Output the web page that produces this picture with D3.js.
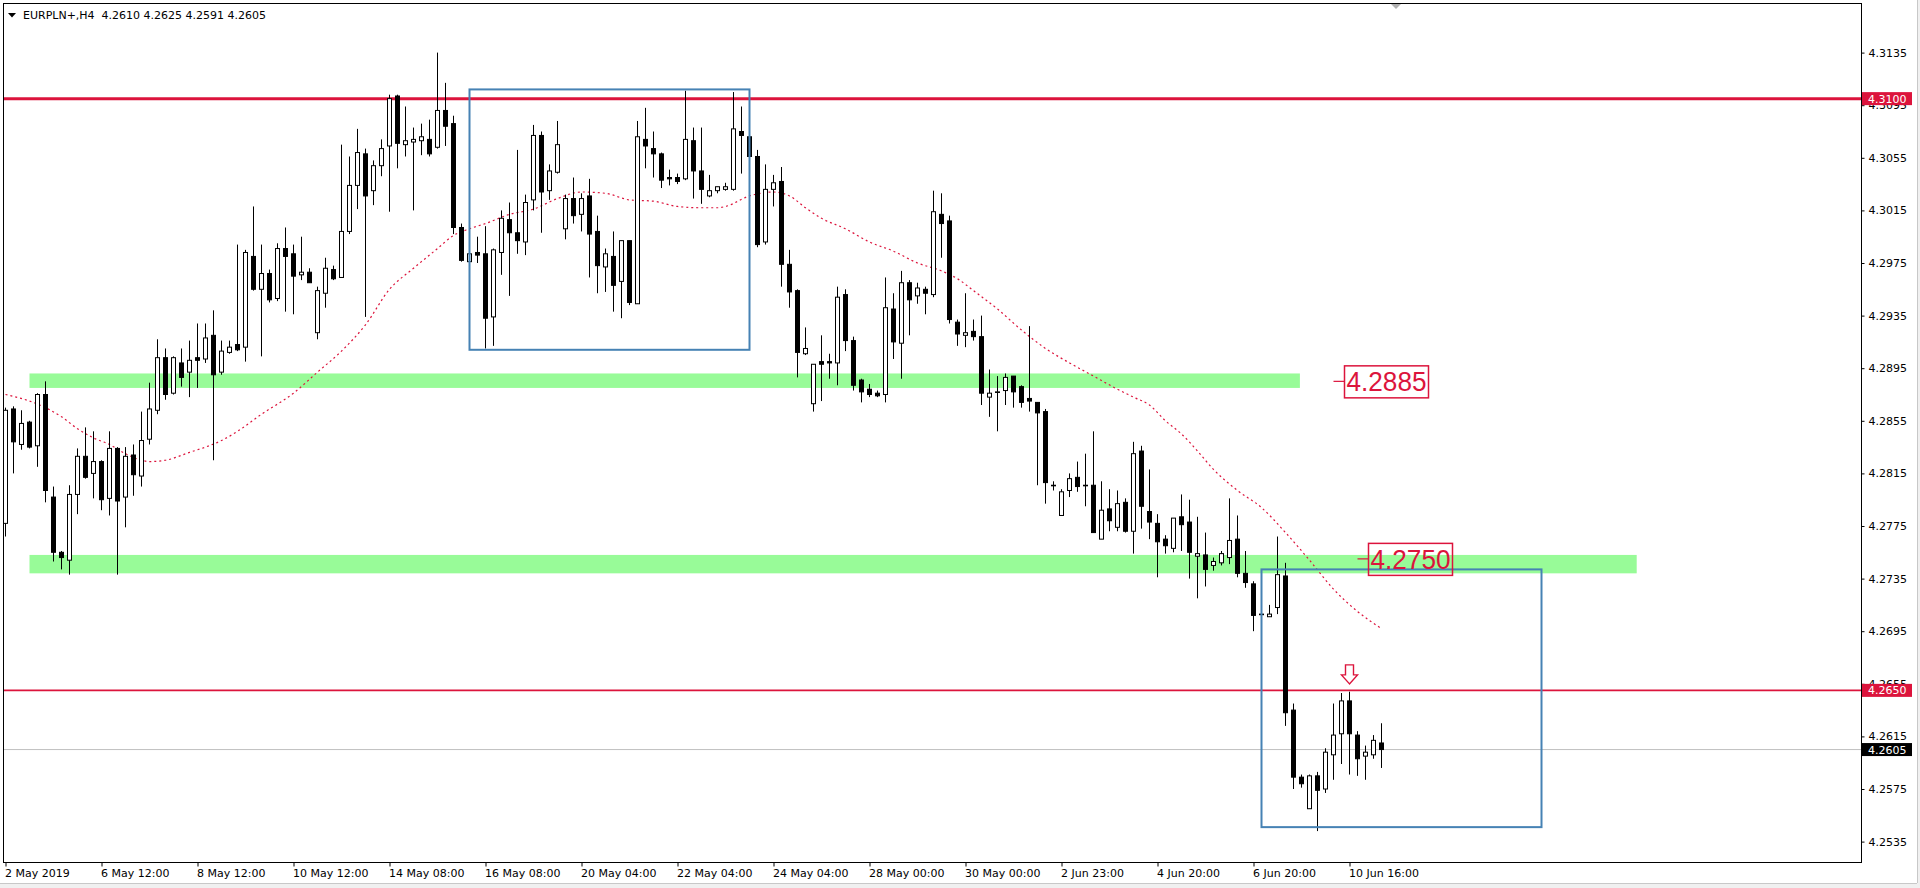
<!DOCTYPE html>
<html><head><meta charset="utf-8">
<script src="https://cdn.jsdelivr.net/npm/d3@7"></script>
<style>html,body{margin:0;padding:0;background:#fff;overflow:hidden}</style>
</head><body>
<svg id="c" width="1920" height="888" xmlns="http://www.w3.org/2000/svg"></svg>
<script>
// ---------- DATA (EURPLN+, H4) ----------
const symbolTitle = "EURPLN+,H4";
const opens = [4.2777,4.2864,4.2837,4.2854,4.2836,4.2875,4.2797,4.2755,4.2749,4.2799,
4.2828,4.2815,4.2824,4.2796,4.2834,4.2797,4.2829,4.2813,4.2841,4.2863,
4.2903,4.2876,4.2899,4.2892,4.2903,4.2902,4.2920,4.2892,4.2907,4.2913,
4.2911,4.2980,4.2955,4.2967,4.2948,4.2986,4.2982,4.2966,4.2968,4.2922,
4.2952,4.2970,4.2964,4.2999,4.3034,4.3058,4.3030,4.3049,4.3064,4.3102,
4.3065,4.3067,4.3068,4.3069,4.3063,4.3091,4.3081,4.3002,4.2976,4.2983,
4.2982,4.2934,4.2983,4.3008,4.2998,4.2991,4.3023,4.3072,4.3030,4.3044,
4.3001,4.3024,4.3012,4.3026,4.2999,4.2972,4.2980,4.2961,4.2992,4.2944,
4.3069,4.3062,4.3058,4.3040,4.3040,4.3039,4.3068,4.3045,4.3026,4.3030,
4.3031,4.3031,4.3075,4.3071,4.3056,4.2991,4.3031,4.3037,4.2974,4.2954,
4.2906,4.2868,4.2900,4.2900,4.2899,4.2951,4.2916,4.2886,4.2879,4.2876,
4.2875,4.2940,4.2914,4.2960,4.2950,4.2955,4.2951,4.3012,4.3007,4.2930,
4.2920,4.2923,4.2919,4.2873,4.2877,4.2878,4.2889,4.2881,4.2872,4.2869,
4.2862,4.2806,4.2783,4.2802,4.2812,4.2806,4.2806,4.2765,4.2788,4.2774,
4.2793,4.2771,4.2832,4.2786,4.2777,4.2765,4.2758,4.2782,4.2778,4.2752,
4.2753,4.2745,4.2747,4.2751,4.2765,4.2739,4.2731,4.2708,4.2706,4.2713,
4.2737,4.2635,4.2584,4.2560,4.2585,4.2575,4.2601,4.2617,4.2642,4.2616,
4.2600,4.2601,4.2610];
const highs = [4.2865,4.2866,4.2863,4.2855,4.2876,4.2885,4.2805,4.2756,4.2806,4.2834,
4.2850,4.2847,4.2825,4.2847,4.2835,4.2835,4.2837,4.2862,4.2884,4.2917,
4.2910,4.2904,4.2910,4.2916,4.2929,4.2929,4.2939,4.2916,4.2916,4.2989,
4.2985,4.3018,4.2989,4.2970,4.2990,4.3002,4.2989,4.2995,4.2971,4.2957,
4.2979,4.2973,4.3065,4.3056,4.3077,4.3062,4.3053,4.3069,4.3103,4.3103,
4.3094,4.3078,4.3081,4.3084,4.3135,4.3112,4.3087,4.3005,4.2983,4.2995,
4.3003,4.2986,4.3015,4.3021,4.3061,4.3027,4.3080,4.3075,4.3050,4.3083,
4.3027,4.3040,4.3028,4.3039,4.3011,4.2986,4.2999,4.2992,4.2992,4.3083,
4.3093,4.3075,4.3059,4.3046,4.3043,4.3106,4.3078,4.3078,4.3042,4.3033,
4.3036,4.3105,4.3094,4.3072,4.3061,4.3050,4.3042,4.3048,4.2985,4.2955,
4.2926,4.2898,4.2920,4.2906,4.2957,4.2955,4.2919,4.2887,4.2883,4.2878,
4.2964,4.2952,4.2969,4.2962,4.2960,4.2957,4.3030,4.3028,4.3011,4.2932,
4.2952,4.2932,4.2935,4.2894,4.2889,4.2891,4.2889,4.2882,4.2927,4.2869,
4.2864,4.2809,4.2803,4.2815,4.2824,4.2830,4.2847,4.2809,4.2803,4.2802,
4.2796,4.2839,4.2836,4.2818,4.2784,4.2768,4.2781,4.2799,4.2795,4.2782,
4.2770,4.2751,4.2756,4.2796,4.2783,4.2756,4.2733,4.2709,4.2715,4.2767,
4.2747,4.2640,4.2586,4.2586,4.2588,4.2606,4.2640,4.2648,4.2649,4.2619,
4.2608,4.2616,4.2625];
const lows = [4.2767,4.2815,4.2833,4.2834,4.2820,4.2793,4.2748,4.2742,4.2738,4.2784,
4.2811,4.2796,4.2787,4.2783,4.2738,4.2774,4.2798,4.2805,4.2837,4.2860,
4.2871,4.2875,4.2881,4.2873,4.2880,4.2899,4.2825,4.2890,4.2906,4.2908,
4.2900,4.2954,4.2904,4.2945,4.2946,4.2938,4.2936,4.2962,4.2960,4.2917,
4.2941,4.2962,4.2964,4.2997,4.3016,4.2934,4.3019,4.3041,4.3014,4.3047,
4.3056,4.3015,4.3057,4.3056,4.3062,4.3064,4.2997,4.2976,4.2976,4.2975,
4.2910,4.2912,4.2966,4.2950,4.2982,4.2981,4.3015,4.2998,4.3023,4.3043,
4.2993,4.3005,4.2999,4.2964,4.2952,4.2953,4.2938,4.2933,4.2943,4.2944,
4.3047,4.3040,4.3032,4.3034,4.3035,4.3038,4.3024,4.3020,4.3025,4.3028,
4.3030,4.3030,4.3043,4.3055,4.2987,4.2989,4.3018,4.2957,4.2941,4.2888,
4.2905,4.2862,4.2870,4.2887,4.2882,4.2908,4.2878,4.2869,4.2873,4.2873,
4.2869,4.2902,4.2887,4.2920,4.2944,4.2936,4.2949,4.2979,4.2929,4.2912,
4.2911,4.2916,4.2867,4.2858,4.2847,4.2867,4.2865,4.2865,4.2862,4.2806,
4.2792,4.2802,4.2783,4.2797,4.2801,4.2790,4.2770,4.2765,4.2771,4.2771,
4.2770,4.2754,4.2773,4.2765,4.2736,4.2754,4.2755,4.2756,4.2735,4.2720,
4.2729,4.2741,4.2745,4.2746,4.2736,4.2728,4.2695,4.2707,4.2706,4.2708,
4.2623,4.2575,4.2576,4.2560,4.2543,4.2572,4.2582,4.2594,4.2586,4.2585,
4.2582,4.2598,4.2591];
const closes = [4.2863,4.2839,4.2853,4.2835,4.2875,4.2802,4.2755,4.2751,4.2799,4.2828,
4.2812,4.2824,4.2795,4.2834,4.2794,4.2828,4.2814,4.2840,4.2864,4.2903,
4.2875,4.2903,4.2888,4.2901,4.2901,4.2918,4.2890,4.2908,4.2911,4.2909,
4.2983,4.2955,4.2967,4.2947,4.2986,4.2980,4.2965,4.2968,4.2960,4.2954,
4.2971,4.2963,4.2999,4.3034,4.3059,4.3026,4.3049,4.3062,4.3100,4.3066,
4.3068,4.3069,4.3071,4.3058,4.3091,4.3079,4.3002,4.2977,4.2982,4.2981,
4.2933,4.2985,4.3009,4.2998,4.2992,4.3021,4.3072,4.3029,4.3045,4.3065,
4.3024,4.3011,4.3024,4.2997,4.2973,4.2982,4.2958,4.2992,4.2945,4.3071,
4.3064,4.3058,4.3038,4.3039,4.3037,4.3069,4.3045,4.3031,4.3030,4.3033,
4.3033,4.3077,4.3072,4.3056,4.2989,4.3031,4.3036,4.2974,4.2953,4.2907,
4.2910,4.2898,4.2898,4.2899,4.2949,4.2916,4.2882,4.2877,4.2875,4.2874,
4.2941,4.2915,4.2960,4.2947,4.2956,4.2952,4.3014,4.3005,4.2932,4.2921,
4.2922,4.2919,4.2876,4.2876,4.2877,4.2888,4.2877,4.2869,4.2870,4.2861,
4.2808,4.2806,4.2801,4.2811,4.2805,4.2806,4.2770,4.2787,4.2779,4.2792,
4.2771,4.2830,4.2790,4.2778,4.2763,4.2760,4.2781,4.2776,4.2755,4.2754,
4.2742,4.2748,4.2754,4.2764,4.2739,4.2732,4.2707,4.2708,4.2708,4.2738,
4.2633,4.2584,4.2579,4.2585,4.2574,4.2603,4.2616,4.2642,4.2617,4.2598,
4.2603,4.2612,4.2605];

// moving average (red dotted), sampled at bar indices
const maBars = [0,3,5,7,9,11,13,15,17,18,20,23,25,27,29,32,36,39,42,45,48,51,54,56,58,60,63,66,69,72,75,78,81,84,87,89,90,93,96,98,100,102,105,108,111,114,117,119,121,124,127,130,133,136,139,141,143,145,147,149,151,154,157,160,163,166,169,172];
const maValues = [4.2875,4.2870,4.2865,4.2858,4.2849,4.2842,4.2837,4.2830,4.2825,4.2824,4.2825,4.2831,4.2835,4.2840,4.2847,4.2860,4.2876,4.2892,4.2908,4.2928,4.2955,4.2971,4.2986,4.2996,4.3001,4.3005,4.3012,4.3016,4.3024,4.3029,4.3028,4.3023,4.3022,4.3018,4.3017,4.3017,4.3018,4.3026,4.3029,4.3026,4.3017,4.3009,4.3001,4.2991,4.2984,4.2975,4.2969,4.2963,4.2954,4.2940,4.2924,4.2910,4.2899,4.2889,4.2879,4.2873,4.2867,4.2855,4.2845,4.2832,4.2818,4.2802,4.2789,4.2770,4.2749,4.2727,4.2710,4.2697];

const dateTickBars = [0,12,24,36,48,60,72,84,96,108,120,132,144,156,168];
const dateLabels = ["2 May 2019","6 May 12:00","8 May 12:00","10 May 12:00","14 May 08:00","16 May 08:00","20 May 04:00","22 May 04:00","24 May 04:00","28 May 00:00","30 May 00:00","2 Jun 23:00","4 Jun 20:00","6 Jun 20:00","10 Jun 16:00"];
const priceTicks = [4.3135,4.3095,4.3055,4.3015,4.2975,4.2935,4.2895,4.2855,4.2815,4.2775,4.2735,4.2695,4.2655,4.2615,4.2575,4.2535];

const levelPrices = [4.3100, 4.2650];          // horizontal red lines
const bidPrice = 4.2605;                         // current price line
const zoneBands = [[3, 161.8, 4.2880, 4.2891], [3, 203.9, 4.2739, 4.2753]]; // [fromBar,toBar,lowPrice,highPrice]
const boxes = [[58, 93, 4.2909, 4.3107], [157, 192, 4.2546, 4.2742]];          // [fromBar,toBar,lowPrice,highPrice]
const priceNotes = [[166, 4.2885, "4.2885"], [169, 4.2750, "4.2750"]];      // [bar,price,text]
const arrowMark = [168, 4.2650];                 // [bar, price]

// ---------- LAYOUT ----------
const W = 1920, H = 888;
const frame = {l: 3.5, t: 3.5, r: 1861.5, b: 862.5};
const svg = d3.select("#c");
const x = d3.scaleLinear().domain([0, 172]).range([5.5, 5.5 + 8 * 172]);
const y = d3.scaleLinear().domain([4.2535, 4.3135]).range([841.6, 52.6]);
const RED = "#DC143C", BLUE = "#4682B4", GREEN = "#98FB98";
const FONT = "DejaVu Sans, Verdana, sans-serif";

// window chrome
svg.append("rect").attr("x",0).attr("y",0).attr("width",W).attr("height",H).attr("fill","#fff");
svg.append("rect").attr("x",1917).attr("y",0).attr("width",3).attr("height",H).attr("fill","#f0f0f0");
svg.append("rect").attr("x",0).attr("y",883).attr("width",W).attr("height",5).attr("fill","#f0f0f0");
svg.append("line").attr("x1",1917.5).attr("x2",1917.5).attr("y1",0).attr("y2",883).attr("stroke","#c8c8c8");
svg.append("line").attr("x1",0).attr("x2",1917).attr("y1",883.5).attr("y2",883.5).attr("stroke","#c8c8c8");

svg.append("defs").append("clipPath").attr("id","plot")
  .append("rect").attr("x",frame.l).attr("y",frame.t).attr("width",frame.r-frame.l).attr("height",frame.b-frame.t);
const plot = svg.append("g").attr("clip-path","url(#plot)");

// zone bands
plot.selectAll("rect.band").data(zoneBands).enter().append("rect").attr("class","band")
  .attr("x", d => x(d[0])).attr("width", d => x(d[1]) - x(d[0]))
  .attr("y", d => y(d[3])).attr("height", d => y(d[2]) - y(d[3]))
  .attr("fill", GREEN);

// bid line
plot.append("line").attr("x1",frame.l).attr("x2",frame.r).attr("y1",y(bidPrice)).attr("y2",y(bidPrice))
  .attr("stroke","#c0c0c0").attr("stroke-width",1);

// level lines
plot.selectAll("line.level").data(levelPrices).enter().append("line").attr("class","level")
  .attr("x1",frame.l).attr("x2",frame.r).attr("y1",d=>y(d)).attr("y2",d=>y(d))
  .attr("stroke",RED).attr("stroke-width",(d,i)=> i===0 ? 3 : 1.6);

// moving average
const maPts = maBars.map((b,i)=>[b, maValues[i]]);
plot.append("path").datum(maPts)
  .attr("d", d3.line().x(d=>x(d[0])).y(d=>y(d[1])).curve(d3.curveMonotoneX))
  .attr("fill","none").attr("stroke",RED).attr("stroke-width",1.2).attr("stroke-dasharray","2,3");

// candles
const bars = opens.map((o,i)=>({i, o, h: highs[i], l: lows[i], c: closes[i]}));
const cg = plot.append("g");
cg.selectAll("line.wick").data(bars).enter().append("line").attr("class","wick")
  .attr("x1",d=>x(d.i)).attr("x2",d=>x(d.i)).attr("y1",d=>y(d.h)).attr("y2",d=>y(d.l))
  .attr("stroke","#000").attr("stroke-width",1);
cg.selectAll("rect.body").data(bars).enter().append("rect").attr("class","body")
  .attr("x",d=>x(d.i)-2).attr("width",4)
  .attr("y",d=>y(Math.max(d.o,d.c)))
  .attr("height",d=>Math.max(Math.abs(y(d.o)-y(d.c)), 0.6))
  .attr("fill",d=> d.c >= d.o ? "#fff" : "#000")
  .attr("stroke","#000").attr("stroke-width",1);

// blue boxes
plot.selectAll("rect.box").data(boxes).enter().append("rect").attr("class","box")
  .attr("x",d=>x(d[0])).attr("width",d=>x(d[1])-x(d[0]))
  .attr("y",d=>y(d[3])).attr("height",d=>y(d[2])-y(d[3]))
  .attr("fill","none").attr("stroke",BLUE).attr("stroke-width",2);

// price notes
priceNotes.forEach(n => {
  const px = x(n[0]), py = y(n[1]);
  plot.append("line").attr("x1",px).attr("x2",px+11).attr("y1",py).attr("y2",py).attr("stroke",RED).attr("stroke-width",1.2);
  plot.append("rect").attr("x",px+11).attr("y",py-15.5).attr("width",84).attr("height",32)
    .attr("fill","none").attr("stroke",RED).attr("stroke-width",1.5);
  plot.append("text").attr("x",px+13).attr("y",py+10).attr("fill",RED)
    .attr("font-family","Liberation Sans, Arial, sans-serif").attr("font-size",28)
    .attr("textLength",80).attr("lengthAdjust","spacingAndGlyphs").text(n[2]);
});

// arrow
{
  const ax = x(arrowMark[0]), ay = y(arrowMark[1]) - 6.5;
  const p = d3.path();
  p.moveTo(ax, ay); p.lineTo(ax-8, ay-9); p.lineTo(ax-4, ay-9); p.lineTo(ax-4, ay-19);
  p.lineTo(ax+4, ay-19); p.lineTo(ax+4, ay-9); p.lineTo(ax+8, ay-9); p.closePath();
  plot.append("path").attr("d",p.toString()).attr("fill","#fff").attr("stroke",RED).attr("stroke-width",1.4)
    .attr("stroke-linejoin","miter");
}

// chart shift marker
svg.append("path").attr("d","M1391,4 L1401,4 L1396,9 Z").attr("fill","#b0b0b0");

// frame
svg.append("rect").attr("x",frame.l).attr("y",frame.t).attr("width",frame.r-frame.l).attr("height",frame.b-frame.t)
  .attr("fill","none").attr("stroke","#000").attr("stroke-width",1);

// price axis
const ya = svg.append("g").attr("transform",`translate(${frame.r},0)`)
  .call(d3.axisRight(y).tickValues(priceTicks).tickSize(3).tickPadding(4).tickFormat(d3.format(".4f")));
ya.select(".domain").remove();
ya.selectAll("text").attr("font-family",FONT).attr("font-size",11).attr("fill","#000");
ya.selectAll("line").attr("stroke","#000");

// price tags on axis
const tags = [[levelPrices[0], RED], [levelPrices[1], RED], [bidPrice, "#000"]];
tags.forEach(t => {
  const ty = y(t[0]);
  svg.append("rect").attr("x",frame.r+0.5).attr("y",ty-6.5).attr("width",50).attr("height",13).attr("fill",t[1]);
  svg.append("text").attr("x",frame.r+6.5).attr("y",ty+4).attr("fill","#fff")
    .attr("font-family",FONT).attr("font-size",11).text(d3.format(".4f")(t[0]));
});

// date axis
const xa = svg.append("g").attr("transform",`translate(0,${frame.b})`)
  .call(d3.axisBottom(x).tickValues(dateTickBars).tickSize(4).tickPadding(3).tickFormat((d,i)=>dateLabels[i]));
xa.select(".domain").remove();
xa.selectAll("text").attr("font-family",FONT).attr("font-size",11).attr("fill","#000").attr("text-anchor","start").attr("dx",-1);
xa.selectAll("line").attr("stroke","#000");

// title
svg.append("path").attr("d","M8,13 L16,13 L12,17.5 Z").attr("fill","#000");
svg.append("text").attr("x",23).attr("y",19).attr("font-family",FONT).attr("font-size",11).attr("fill","#000")
  .attr("xml:space","preserve").style("white-space","pre")
  .text(`${symbolTitle}  ${d3.format(".4f")(opens[172])} ${d3.format(".4f")(highs[172])} ${d3.format(".4f")(lows[172])} ${d3.format(".4f")(closes[172])}`);
</script>
</body></html>
